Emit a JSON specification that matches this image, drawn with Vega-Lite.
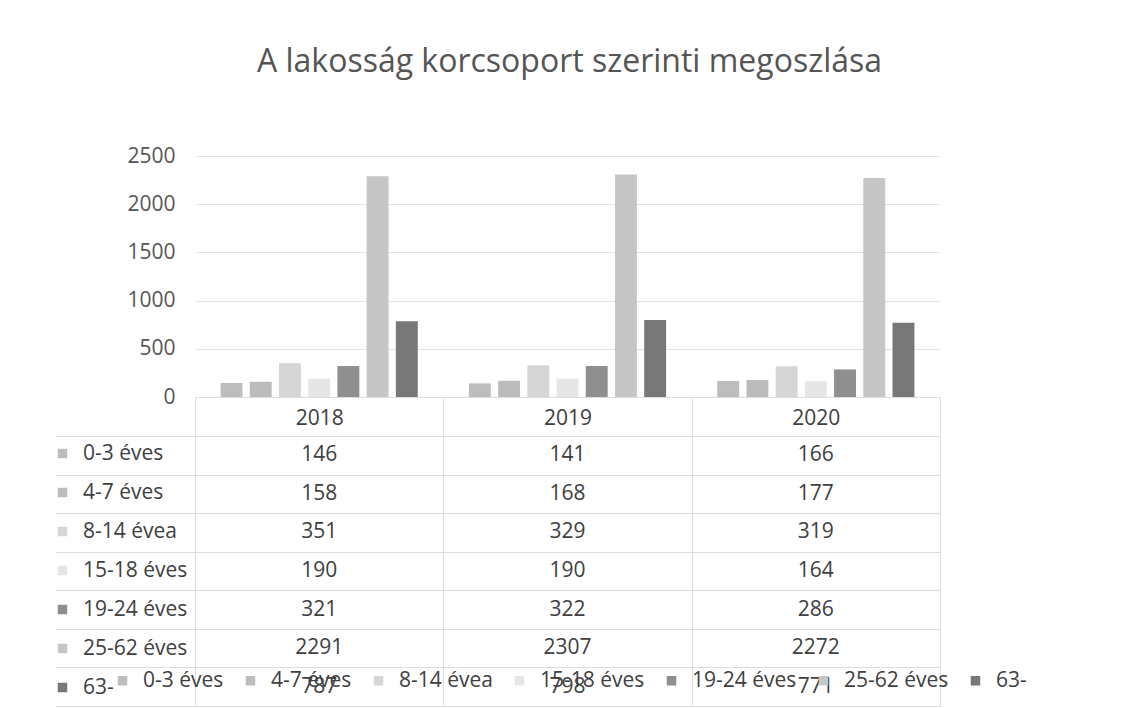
{
  "$schema": "https://vega.github.io/schema/vega-lite/v6.json",
  "background": "white",
  "padding": {"left": 52, "top": 46, "right": 5, "bottom": 5},
  "title": {"text": "A lakosság korcsoport szerinti megoszlása", "font": "Open Sans", "fontSize": 32, "fontWeight": "normal", "color": "#555555", "anchor": "middle", "offset": 66, "dx": 30},
  "config": {"view": {"stroke": null}, "font": "Open Sans"},
  "spacing": -3,
  "resolve": {"legend": {"color": "independent"}},
  "datasets": {
    "pop": [
      {"year": "2018", "group": "0-3 éves", "value": 146},
      {"year": "2018", "group": "4-7 éves", "value": 158},
      {"year": "2018", "group": "8-14 évea", "value": 351},
      {"year": "2018", "group": "15-18 éves", "value": 190},
      {"year": "2018", "group": "19-24 éves", "value": 321},
      {"year": "2018", "group": "25-62 éves", "value": 2291},
      {"year": "2018", "group": "63-", "value": 787},
      {"year": "2019", "group": "0-3 éves", "value": 141},
      {"year": "2019", "group": "4-7 éves", "value": 168},
      {"year": "2019", "group": "8-14 évea", "value": 329},
      {"year": "2019", "group": "15-18 éves", "value": 190},
      {"year": "2019", "group": "19-24 éves", "value": 322},
      {"year": "2019", "group": "25-62 éves", "value": 2307},
      {"year": "2019", "group": "63-", "value": 798},
      {"year": "2020", "group": "0-3 éves", "value": 166},
      {"year": "2020", "group": "4-7 éves", "value": 177},
      {"year": "2020", "group": "8-14 évea", "value": 319},
      {"year": "2020", "group": "15-18 éves", "value": 164},
      {"year": "2020", "group": "19-24 éves", "value": 286},
      {"year": "2020", "group": "25-62 éves", "value": 2272},
      {"year": "2020", "group": "63-", "value": 771}
    ]
  },
  "vconcat": [
    {
      "width": 745,
      "height": 241,
      "data": {"name": "pop"},
      "mark": {"type": "bar"},
      "encoding": {
        "x": {"field": "year", "type": "nominal", "scale": {"paddingInner": 0, "paddingOuter": 0},
          "axis": {"title": null, "labelAngle": 0, "labelFontSize": 21, "labelColor": "#404040", "tickBand": "extent", "tickSize": 38, "tickColor": "#dddddd", "domainColor": "#dddddd", "labelPadding": -28}},
        "xOffset": {"field": "group", "type": "nominal", "sort": ["0-3 éves", "4-7 éves", "8-14 évea", "15-18 éves", "19-24 éves", "25-62 éves", "63-"], "scale": {"paddingInner": 0.25, "paddingOuter": 0.875}},
        "y": {"field": "value", "type": "quantitative", "scale": {"domain": [0, 2500]},
          "axis": {"title": null, "values": [0, 500, 1000, 1500, 2000, 2500], "format": "d", "domain": false, "ticks": false, "labelFontSize": 21, "labelColor": "#555555", "labelPadding": 20, "gridColor": "#e3e3e3"}},
        "color": {"field": "group", "type": "nominal", "sort": ["0-3 éves", "4-7 éves", "8-14 évea", "15-18 éves", "19-24 éves", "25-62 éves", "63-"],
          "scale": {"domain": ["0-3 éves", "4-7 éves", "8-14 évea", "15-18 éves", "19-24 éves", "25-62 éves", "63-"], "range": ["#bdbdbd", "#bcbcbc", "#d6d6d6", "#e6e6e6", "#8f8f8f", "#c6c6c6", "#787878"]},
          "legend": null}
      }
    },
    {
      "width": 745,
      "height": 270,
      "data": {"name": "pop"},
      "encoding": {
        "x": {"field": "year", "type": "nominal", "scale": {"paddingInner": 0, "paddingOuter": 0},
          "axis": {"title": null, "labels": false, "ticks": false, "domain": false, "grid": true, "tickBand": "extent", "gridColor": "#dddddd"}},
        "y": {"field": "group", "type": "nominal", "sort": ["0-3 éves", "4-7 éves", "8-14 évea", "15-18 éves", "19-24 éves", "25-62 éves", "63-"], "scale": {"paddingInner": 0, "paddingOuter": 0},
          "axis": {"title": null, "labels": false, "domain": false, "grid": true, "tickBand": "extent", "tickSize": 140, "tickColor": "#dddddd", "gridColor": "#dddddd"}}
      },
      "layer": [
        {
          "mark": {"type": "text", "fontSize": 21, "color": "#404040"},
          "encoding": {"text": {"field": "value", "type": "quantitative"}}
        },
        {
          "mark": {"type": "point", "shape": "square", "filled": true, "opacity": 0},
          "encoding": {
            "color": {"field": "group", "type": "nominal",
              "legend": {"title": null, "orient": "none", "direction": "vertical", "legendX": -143, "legendY": 7, "padding": 0, "symbolType": "square", "symbolSize": 90, "symbolOpacity": 1, "symbolStrokeWidth": 0, "labelFontSize": 21, "labelColor": "#404040", "labelOffset": 10, "rowPadding": 17}}
          }
        },
        {
          "mark": {"type": "point", "shape": "square", "filled": true, "opacity": 0},
          "encoding": {
            "fill": {"field": "group", "type": "nominal", "sort": ["0-3 éves", "4-7 éves", "8-14 évea", "15-18 éves", "19-24 éves", "25-62 éves", "63-"],
              "scale": {"domain": ["0-3 éves", "4-7 éves", "8-14 évea", "15-18 éves", "19-24 éves", "25-62 éves", "63-"], "range": ["#bdbdbd", "#bcbcbc", "#d6d6d6", "#e6e6e6", "#8f8f8f", "#c6c6c6", "#787878"]},
              "legend": {"title": null, "orient": "none", "direction": "horizontal", "legendX": -83, "legendY": 514, "padding": 0, "symbolType": "square", "symbolSize": 90, "symbolOpacity": 1, "symbolStrokeWidth": 0, "labelFontSize": 21, "labelColor": "#404040", "labelOffset": 10, "columnPadding": 16}}
          }
        }
      ]
    }
  ]
}
